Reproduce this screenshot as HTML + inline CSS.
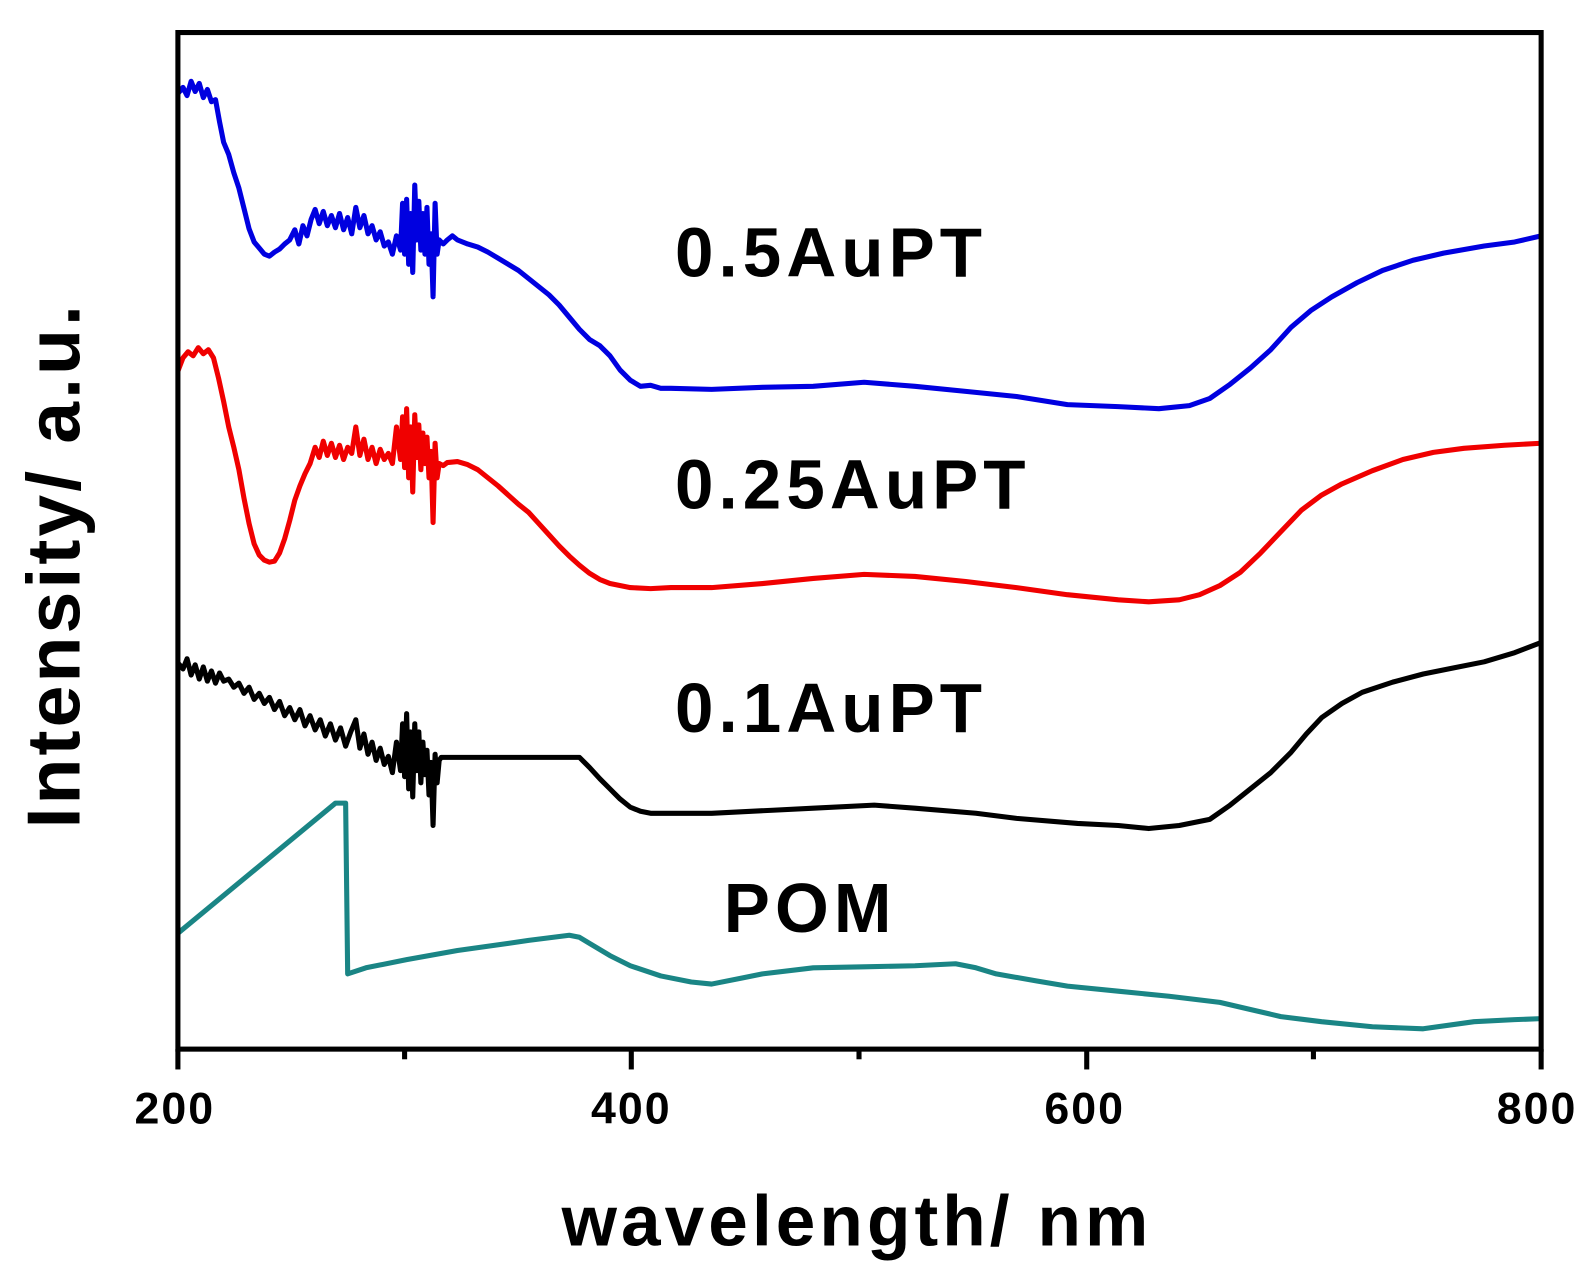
<!DOCTYPE html>
<html><head><style>html,body{margin:0;padding:0;background:#fff}svg{display:block}</style></head>
<body>
<svg width="1594" height="1286" viewBox="0 0 1568 1265" xmlns="http://www.w3.org/2000/svg" font-family="Liberation Sans, Arial, sans-serif">
<rect width="1568" height="1265" fill="#fff"/>
<g fill="none" stroke-width="5" stroke-linejoin="round">
<polyline stroke="#0000e0" points="175,92 180,86 184,94 188,80 192,90 196,82 200,96 204,88 208,100 212,98 216,120 220,140 225,152 230,170 235,185 240,205 245,225 250,238 255,244 260,250 265,252 270,248 275,245 280,240 285,236 290,226 294,240 298,222 302,232 306,216 310,206 314,220 318,208 322,222 326,212 330,224 334,210 338,226 342,214 346,230 350,204 354,224 358,212 362,230 366,222 370,236 374,228 378,242 382,238 386,250 390,232 394,246 396,200 398,250 400,196 402,260 404,210 406,268 408,182 410,236 412,198 414,246 416,210 418,250 420,204 422,260 424,230 426,292 428,200 430,250 432,236 436,240 440,236 445,232 450,236 460,240 470,243 480,248 490,254 500,260 510,266 520,274 530,282 540,290 550,300 560,312 570,324 580,334 590,340 600,350 610,364 620,374 630,380 640,379 650,382 660,382 700,383 750,381 800,380 850,376 900,380 950,385 1000,390 1050,398 1100,400 1140,402 1170,399 1190,392 1210,378 1230,362 1250,344 1270,322 1290,305 1310,292 1335,278 1360,266 1390,256 1420,249 1460,242 1490,238 1516,232"/>
<polyline stroke="#f00000" points="175,365 180,352 185,346 190,350 195,342 200,348 205,344 210,352 215,372 220,395 225,420 230,440 235,462 240,490 245,515 250,535 255,546 260,551 265,553 270,552 275,544 280,530 285,512 290,492 295,478 300,466 305,456 310,440 314,450 318,434 322,448 326,436 330,450 334,438 338,452 342,440 346,446 350,420 354,448 358,432 362,452 366,440 370,456 374,442 378,452 382,446 386,456 390,420 394,452 396,410 398,460 400,402 402,470 404,420 406,484 408,408 410,450 412,418 414,462 416,426 418,456 420,430 422,470 424,444 426,514 428,436 430,470 432,456 436,458 440,455 450,454 460,457 470,462 480,470 490,478 500,487 510,496 520,504 530,515 540,526 550,537 560,547 570,556 580,564 590,570 600,574 620,578 640,579 660,578 700,578 750,574 800,569 850,565 900,567 950,572 1000,578 1050,585 1100,590 1130,592 1160,590 1180,585 1200,576 1220,563 1240,544 1260,523 1280,502 1300,487 1320,476 1350,463 1380,452 1410,445 1440,441 1480,438 1516,436"/>
<polyline stroke="#000" points="175,652 180,658 184,648 188,664 192,654 196,668 200,656 204,670 208,660 212,672 216,662 220,670 225,668 230,676 235,672 240,682 245,676 250,688 255,682 260,692 265,686 270,698 275,690 280,704 285,696 290,708 295,698 300,714 305,704 310,718 315,708 320,724 325,712 330,728 335,716 340,734 345,720 350,708 354,736 358,722 362,742 366,730 370,748 374,736 378,752 382,744 386,760 390,730 394,758 396,712 398,764 400,702 402,776 404,720 406,784 408,712 410,758 412,720 414,770 416,730 418,762 420,738 422,782 424,750 426,812 428,742 430,770 432,748 434,745 570,745 580,755 590,766 600,776 610,786 620,794 630,798 640,800 660,800 700,800 760,797 800,795 860,792 900,795 960,800 1000,805 1060,810 1100,812 1130,815 1160,812 1190,806 1210,792 1230,776 1250,760 1270,740 1285,722 1300,706 1320,692 1340,681 1370,671 1400,663 1430,657 1460,651 1490,642 1516,632"/>
<polyline stroke="#1a8585" points="175,918 330,790 340,790 342,958 360,952 400,944 450,935 500,928 520,925 560,920 570,922 580,928 600,940 620,950 650,960 680,966 700,968 730,962 750,958 800,952 850,951 900,950 940,948 960,952 980,958 1020,965 1050,970 1100,975 1150,980 1200,986 1230,993 1260,1000 1300,1005 1350,1010 1400,1012 1450,1005 1490,1003 1516,1002"/>
</g>
<rect x="175" y="32" width="1341" height="1000" fill="none" stroke="#000" stroke-width="5"/>
<g stroke="#000" stroke-width="5">
<line x1="175" y1="1032" x2="175" y2="1052"/><line x1="621" y1="1032" x2="621" y2="1052"/>
<line x1="1069" y1="1032" x2="1069" y2="1052"/><line x1="1516" y1="1032" x2="1516" y2="1052"/>
<line x1="398" y1="1032" x2="398" y2="1042"/><line x1="845" y1="1032" x2="845" y2="1042"/><line x1="1292" y1="1032" x2="1292" y2="1042"/>
</g>
<g font-size="44" font-weight="bold" text-anchor="middle" letter-spacing="2">
<text x="172" y="1105">200</text><text x="621" y="1105">400</text><text x="1067" y="1105">600</text><text x="1512" y="1105">800</text>
</g>
<text x="843" y="1225" font-size="70" font-weight="bold" text-anchor="middle" letter-spacing="4">wavelength/ nm</text>
<text transform="translate(78,556) rotate(-90)" font-size="74" font-weight="bold" text-anchor="middle" letter-spacing="3">Intensity/ a.u.</text>
<g font-size="68" font-weight="bold" letter-spacing="5">
<text x="664" y="272">0.5AuPT</text>
<text x="664" y="500">0.25AuPT</text>
<text x="664" y="720">0.1AuPT</text>
<text x="712" y="917">POM</text>
</g>
</svg>
</body></html>
